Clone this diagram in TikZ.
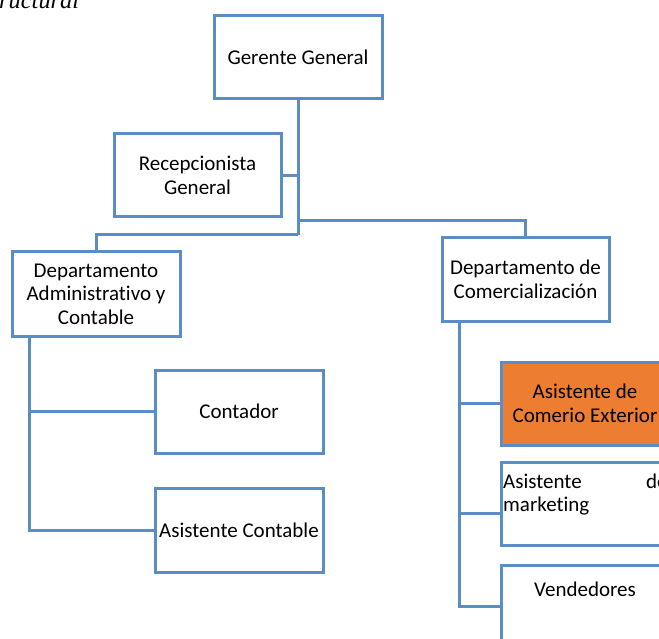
\documentclass[tikz,border=0pt]{standalone}
\usepackage{fontspec}
\setmainfont{Carlito}[Ligatures=NoCommon]
\newfontfamily\titlefont{Liberation Serif}
\definecolor{lineblue}{HTML}{5A8CC6}
\definecolor{orangefill}{HTML}{ED7D31}
\begin{document}
\begin{tikzpicture}[x=1pt,y=-1pt,
  orgbox/.style={draw=lineblue,line width=3pt,fill=white,rectangle,
    minimum width=168pt,minimum height=83pt,inner sep=0pt,align=center,
    font=\fontsize{21}{23.5}\selectfont},
  txt/.style={inner sep=0pt,font=\fontsize{21}{23.5}\selectfont},
  conn/.style={draw=lineblue,line width=3pt}]
\useasboundingbox (0,0) rectangle (659,639);
\clip (0,0) rectangle (659,639);
% title fragment
\node[anchor=base west,inner sep=0pt,font=\titlefont\itshape\fontsize{24.4}{28}\selectfont] (title) at (-1,9) {ructural};
% boxes
\node[orgbox] (gerente) at (298,57.5) {Gerente General};
\node[orgbox,minimum width=167pt] (recep) at (197.5,175.5) {Recepcionista\\General};
\node[orgbox,minimum height=84pt] (admin) at (96,294) {Departamento\\Administrativo y\\Contable};
\node[orgbox,minimum width=167pt] (comerc) at (525.5,279.5) {Departamento de\\Comercializaci\'on};
\node[orgbox] (contador) at (239,411.5) {Contador};
\node[orgbox,minimum height=84pt] (asistcont) at (239,530) {Asistente Contable};
\node[orgbox,fill=orangefill] (comex) at (585,403.5) {Asistente de\\Comerio Exterior};
\node[orgbox] (mkt) at (585,503.5) {};
\node[orgbox] (vend) at (585,606.5) {};
% texts at top of boxes
\node[txt,anchor=base west] (mkt1) at (503,488) {Asistente};
\node[txt,anchor=base west] (mkt2) at (646,488) {de};
\node[txt,anchor=base west] (mkt3) at (503,511) {marketing};
\node[txt] (vendt) at (585,589) {Vendedores};
% junctions
\coordinate (j1) at (298,221);
\coordinate (j2) at (298,235);
\coordinate (av) at (29,336);
\coordinate (cv) at (459,321);
\coordinate (mk) at (501,513);
% connectors
\draw[conn] (gerente.south) -- (j2);
\draw[conn] (recep.east) -- (recep.east -| j1);
\draw[conn] (j1) -| (comerc.north);
\draw[conn] (j2) -| (admin.north);
\draw[conn] (av) |- (asistcont.west);
\draw[conn] (av |- contador.west) -- (contador.west);
\draw[conn] (cv) |- (vend.west);
\draw[conn] (cv |- comex.west) -- (comex.west);
\draw[conn] (cv |- mk) -- (mk);
\end{tikzpicture}
\end{document}
